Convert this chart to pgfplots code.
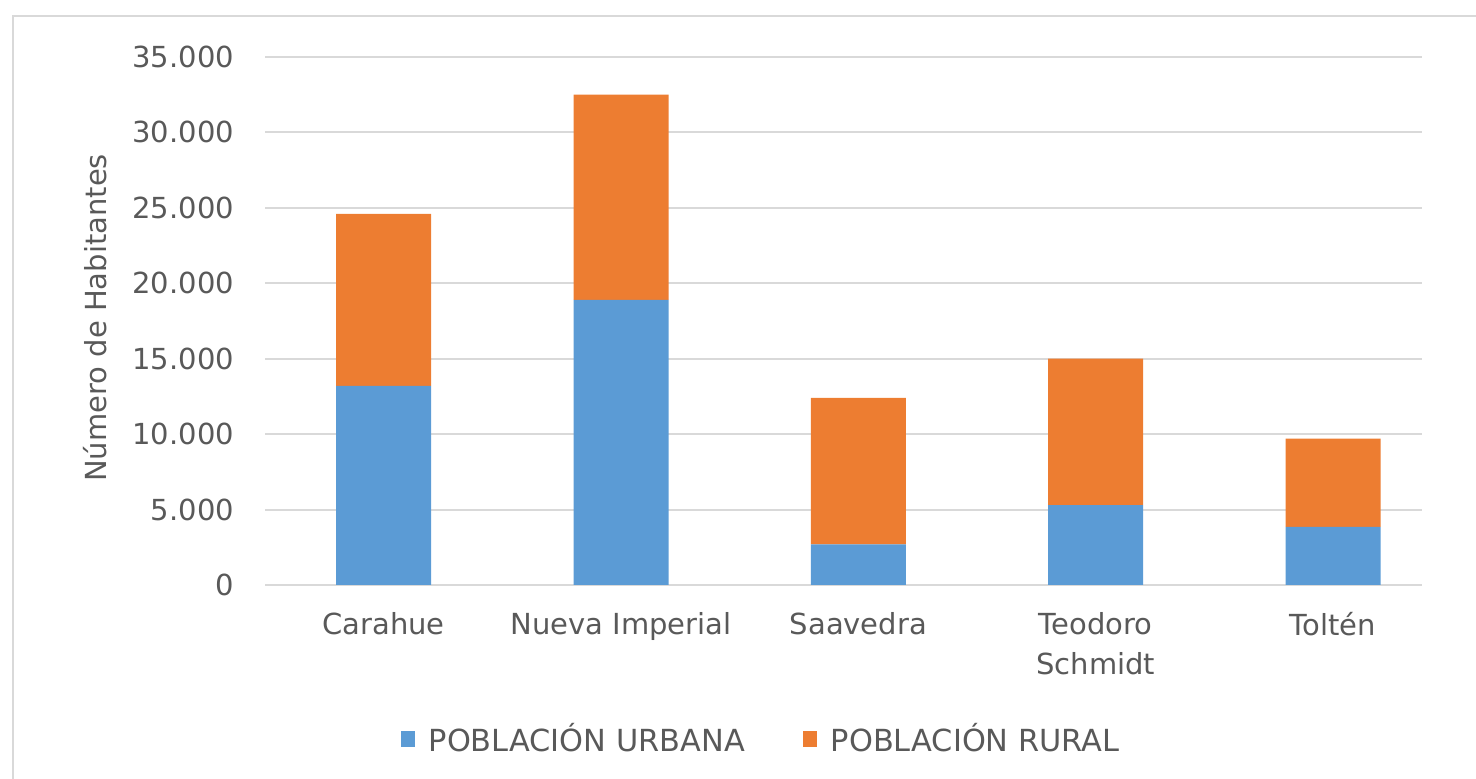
\documentclass[border=0pt]{standalone}
\usepackage{fontspec}
\setmainfont{DejaVu Sans}
\usepackage{pgfplots}
\pgfplotsset{compat=1.18}
\definecolor{urbana}{HTML}{5B9BD5}
\definecolor{rural}{HTML}{ED7D31}
\definecolor{grilla}{HTML}{D9D9D9}
\definecolor{texto}{HTML}{595959}
\newcommand{\fnt}{\fontsize{14.5}{20}\selectfont}
\begin{document}
\begin{tikzpicture}
\begin{axis}[
  at={(132.5pt,97pt)}, anchor=south west,
  scale only axis, width=578.5pt, height=264pt,
  ybar stacked, bar width=47.5pt,
  xmin=-0.5, xmax=4.375, ymin=0, ymax=35000,
  xtick=data,
  xticklabels={Carahue,Nueva Imperial,Saavedra,{Teodoro\\Schmidt},Toltén},
  ytick distance=5000, scaled y ticks=false,
  /pgf/number format/1000 sep={.},
  /pgf/number format/assume math mode=true,
  axis line style={draw=none},
  major tick length=0pt,
  ymajorgrids, grid style={grilla, line width=1pt},
  xticklabel style={align=center, font=\fnt, text=texto, yshift=-10pt},
  yticklabel style={font=\fnt, text=texto, xshift=-12pt},
  ylabel={Número de Habitantes},
  ylabel style={at={(axis description cs:-0.147,0.506)}, anchor=center, font=\fnt, text=texto},
  legend style={at={(axis description cs:0.4296,-0.2917)}, anchor=center,
    draw=none, font=\fontsize{15.2}{18}\selectfont, text=texto, legend columns=2,
    /tikz/every odd column/.append style={column sep=5pt},
    /tikz/every even column/.append style={column sep=27pt}},
]
\addplot[fill=urbana, draw=none,
  legend image code/.code={\fill[urbana] (0pt,-4pt) rectangle (7pt,4pt);}]
  coordinates {(0,13200) (1,18900) (2,2700) (3,5300) (4,3850)};
\addplot[fill=rural, draw=none,
  legend image code/.code={\fill[rural] (0pt,-4pt) rectangle (7pt,4pt);}]
  coordinates {(0,11400) (1,13600) (2,9700) (3,9700) (4,5850)};
\legend{POBLACIÓN URBANA, POBLACIÓN RURAL}
\end{axis}
\draw[grilla, line width=1pt] (6.5pt,0pt) -- (6.5pt,381.5pt) -- (738pt,381.5pt);
\pgfresetboundingbox
\path[use as bounding box] (0pt,0pt) rectangle (738pt,389.5pt);
\end{tikzpicture}
\end{document}
